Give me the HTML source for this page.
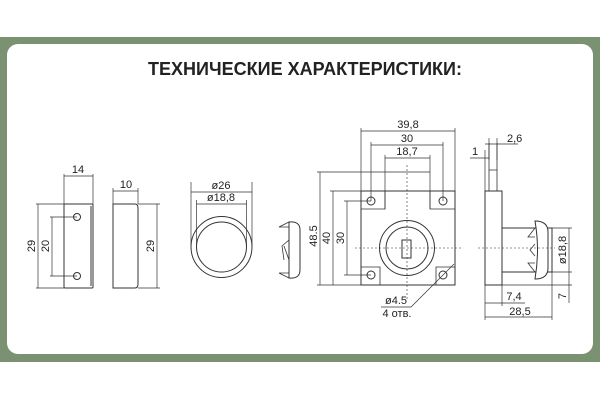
<!DOCTYPE html>
<html><head><meta charset="utf-8"><style>
html,body{margin:0;padding:0;background:#fff;}
svg{display:block;}
text{font-family:"Liberation Sans",sans-serif;fill:#222;}
</style></head><body>
<svg width="600" height="400" viewBox="0 0 600 400">
<rect x="0" y="37" width="600" height="325" fill="#7a9272"/>
<rect x="7" y="44" width="586" height="310" rx="11" fill="#fff"/>
<text x="305" y="75" font-size="18" font-weight="bold" text-anchor="middle" textLength="314">ТЕХНИЧЕСКИЕ ХАРАКТЕРИСТИКИ:</text>
<g stroke="#333" stroke-width="1" fill="none">
<rect x="64" y="204" width="29" height="84" rx="1"/>
<line x1="91" y1="206" x2="91" y2="286"/>
<circle cx="77" cy="217" r="3.5"/><circle cx="77" cy="276" r="3.5"/>
<line x1="64" y1="174" x2="64" y2="204" stroke-width=".7"/>
<line x1="93" y1="174" x2="93" y2="204" stroke-width=".7"/>
<line x1="64" y1="176" x2="93" y2="176" stroke-width=".7"/>
<line x1="36" y1="204" x2="64" y2="204" stroke-width=".7"/>
<line x1="36" y1="288" x2="64" y2="288" stroke-width=".7"/>
<line x1="38" y1="204" x2="38" y2="288" stroke-width=".7"/>
<line x1="50" y1="217" x2="77" y2="217" stroke-width=".7"/>
<line x1="50" y1="276" x2="77" y2="276" stroke-width=".7"/>
<line x1="52" y1="217" x2="52" y2="276" stroke-width=".7"/>
<path d="M113 204 H135 Q138 204 138 208 V284 Q138 288 135 288 H113 Z"/>
<line x1="113" y1="188" x2="113" y2="204" stroke-width=".7"/>
<line x1="138" y1="188" x2="138" y2="204" stroke-width=".7"/>
<line x1="113" y1="191" x2="138" y2="191" stroke-width=".7"/>
<line x1="138" y1="204" x2="160" y2="204" stroke-width=".7"/>
<line x1="138" y1="288" x2="160" y2="288" stroke-width=".7"/>
<line x1="157" y1="204" x2="157" y2="288" stroke-width=".7"/>
<circle cx="221.5" cy="247" r="30.5"/>
<circle cx="221.5" cy="247" r="25"/>
<line x1="191" y1="182" x2="191" y2="247" stroke-width=".7"/>
<line x1="252" y1="182" x2="252" y2="247" stroke-width=".7"/>
<line x1="191" y1="192" x2="252" y2="192" stroke-width=".7"/>
<line x1="196.5" y1="200" x2="196.5" y2="247" stroke-width=".7"/>
<line x1="246.5" y1="200" x2="246.5" y2="247" stroke-width=".7"/>
<line x1="196.5" y1="204" x2="246.5" y2="204" stroke-width=".7"/>
<path d="M289 222 Q300 221 300 230 V270 Q300 279 289 278 Z"/>
<path d="M289 222 L279 227 L289 227 M289 240 L282 246 L284 260 M289 260 L284 246 M289 273 L279 273 L289 278" stroke-width=".8"/>
<rect x="361" y="191" width="94" height="94"/>
<path d="M361 209 H385 V191 M430 191 V209 H455 M361 267 H380 V285 M436 285 V267 H455" stroke-width=".8"/>
<circle cx="371" cy="201" r="4"/><circle cx="443" cy="201" r="4"/>
<circle cx="371" cy="275" r="4"/><circle cx="443" cy="275" r="4"/>
<circle cx="407" cy="248" r="27.5"/>
<circle cx="407" cy="248" r="21"/>
<rect x="402" y="240" width="9" height="18"/>
<line x1="407" y1="165" x2="407" y2="300" stroke-dasharray="2,2" stroke-width=".6"/>
<line x1="355" y1="248" x2="462" y2="248" stroke-dasharray="2,2" stroke-width=".6"/>
<line x1="361" y1="128" x2="361" y2="191" stroke-width=".7"/>
<line x1="455" y1="128" x2="455" y2="191" stroke-width=".7"/>
<line x1="361" y1="131" x2="455" y2="131" stroke-width=".7"/>
<line x1="371" y1="142" x2="371" y2="201" stroke-width=".7"/>
<line x1="443" y1="142" x2="443" y2="201" stroke-width=".7"/>
<line x1="371" y1="145" x2="443" y2="145" stroke-width=".7"/>
<line x1="385" y1="155" x2="385" y2="209" stroke-width=".7"/>
<line x1="430" y1="155" x2="430" y2="209" stroke-width=".7"/>
<line x1="385" y1="158" x2="430" y2="158" stroke-width=".7"/>
<line x1="317" y1="172" x2="430" y2="172" stroke-width=".7"/>
<line x1="317" y1="285" x2="361" y2="285" stroke-width=".7"/>
<line x1="320" y1="172" x2="320" y2="285" stroke-width=".7"/>
<line x1="330" y1="191" x2="361" y2="191" stroke-width=".7"/>
<line x1="333" y1="191" x2="333" y2="285" stroke-width=".7"/>
<line x1="344" y1="201" x2="371" y2="201" stroke-width=".7"/>
<line x1="344" y1="275" x2="371" y2="275" stroke-width=".7"/>
<line x1="347" y1="201" x2="347" y2="275" stroke-width=".7"/>
<path d="M454 264 L411 307 H381" stroke-width=".7"/>
<rect x="485" y="191" width="17" height="94"/>
<path d="M489 143 V191 M497 143 V191 M489 170 H497" stroke-width=".8"/>
<rect x="502" y="228" width="50" height="44"/>
<path d="M535 221 Q548 221 548 232 V268 Q548 279 535 279 Q540 250 535 221 Z" fill="#fff"/>
<path d="M535 228 L528 237 L535 237 M535 244 L530 250 L535 256 M535 263 L528 263 L535 272" stroke-width=".8"/>
<line x1="478" y1="248" x2="555" y2="248" stroke-dasharray="2,2" stroke-width=".6"/>
<line x1="485" y1="150" x2="485" y2="191" stroke-width=".7"/>
<line x1="470" y1="158" x2="489" y2="158" stroke-width=".7"/>
<line x1="489" y1="138" x2="489" y2="160" stroke-width=".7"/>
<line x1="497" y1="138" x2="497" y2="160" stroke-width=".7"/>
<line x1="485" y1="144" x2="518" y2="144" stroke-width=".7"/>
<line x1="552" y1="228" x2="572" y2="228" stroke-width=".7"/>
<line x1="552" y1="272" x2="572" y2="272" stroke-width=".7"/>
<line x1="485" y1="285" x2="572" y2="285" stroke-width=".7"/>
<line x1="569" y1="228" x2="569" y2="303" stroke-width=".7"/>
<line x1="485" y1="285" x2="485" y2="320" stroke-width=".7"/>
<line x1="502" y1="285" x2="502" y2="306" stroke-width=".7"/>
<line x1="552" y1="272" x2="552" y2="320" stroke-width=".7"/>
<line x1="485" y1="303" x2="525" y2="303" stroke-width=".7"/>
<line x1="485" y1="317" x2="552" y2="317" stroke-width=".7"/>
</g>
<g font-size="11">
<text x="78" y="173" text-anchor="middle">14</text>
<text x="126" y="188" text-anchor="middle">10</text>
<text x="221" y="189" text-anchor="middle">ø26</text>
<text x="221" y="201" text-anchor="middle">ø18,8</text>
<text transform="translate(35 246) rotate(-90)" text-anchor="middle">29</text>
<text transform="translate(49 246) rotate(-90)" text-anchor="middle">20</text>
<text transform="translate(154 246) rotate(-90)" text-anchor="middle">29</text>
<text x="408" y="128" text-anchor="middle">39,8</text>
<text x="407" y="142" text-anchor="middle">30</text>
<text x="407" y="155" text-anchor="middle">18,7</text>
<text transform="translate(317 236) rotate(-90)" text-anchor="middle">48.5</text>
<text transform="translate(330 238) rotate(-90)" text-anchor="middle">40</text>
<text transform="translate(344 238) rotate(-90)" text-anchor="middle">30</text>
<text x="396" y="304" text-anchor="middle">ø4.5</text>
<text x="397" y="317" text-anchor="middle">4 отв.</text>
<text x="507" y="142">2,6</text>
<text x="472" y="155">1</text>
<text transform="translate(566 250) rotate(-90)" text-anchor="middle">ø18,8</text>
<text transform="translate(566 296) rotate(-90)" text-anchor="middle">7</text>
<text x="514" y="300" text-anchor="middle">7,4</text>
<text x="520" y="315" text-anchor="middle">28,5</text>
</g>
</svg>
</body></html>
